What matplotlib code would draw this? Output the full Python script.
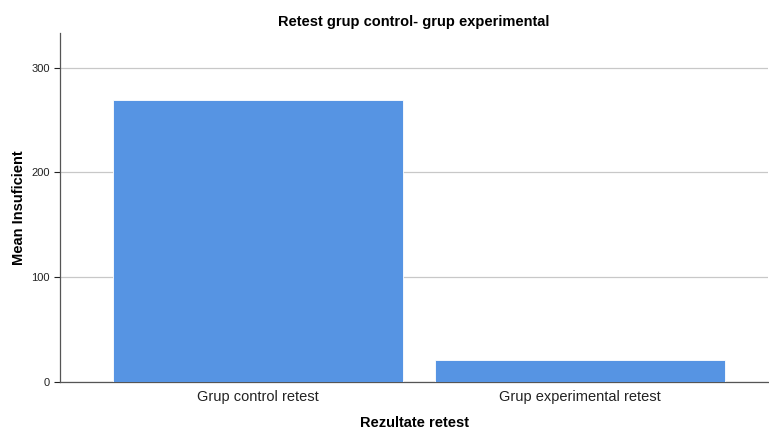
import matplotlib
matplotlib.use('Agg')
import matplotlib.pyplot as plt

plt.rcParams['font.family'] = ['Liberation Sans', 'DejaVu Sans']

# Data
categories = ['Grup control retest', 'Grup experimental retest']
means = [269, 21]
yticks = [0, 100, 200, 300]

fig = plt.figure(figsize=(7.69, 4.30), dpi=100)
ax = fig.add_axes([0.078, 0.1116, 0.921, 0.8114])

x = list(range(len(categories)))
ax.bar(x, means, width=0.9, color='#5694e3', edgecolor='white', linewidth=0.6, zorder=3)

ax.set_xlim(-0.613, 1.585)
ax.set_ylim(0, 333)
ax.set_yticks(yticks)
ax.set_xticks(x)
ax.set_xticklabels(categories, fontsize=10.5, color='#222222')
ax.tick_params(axis='y', labelsize=8, colors='#222222', length=4, width=0.8)
ax.tick_params(axis='x', length=0, pad=6)
ax.yaxis.grid(True, color='#c8c8c8', linewidth=0.9, zorder=0)

for s in ['top', 'right']:
    ax.spines[s].set_visible(False)
for s in ['left', 'bottom']:
    ax.spines[s].set_color('#555555')
    ax.spines[s].set_linewidth(0.9)

ax.set_title('Retest grup control- grup experimental', fontsize=10.5, fontweight='bold', pad=5)
ax.set_xlabel('Rezultate retest', fontsize=10.5, fontweight='bold')
ax.set_ylabel('Mean Insuficient', fontsize=10.5, fontweight='bold')
ax.xaxis.set_label_coords(0.5, -0.098)
ax.yaxis.set_label_coords(-0.048, 0.5)

fig.savefig('out.png', dpi=100)
